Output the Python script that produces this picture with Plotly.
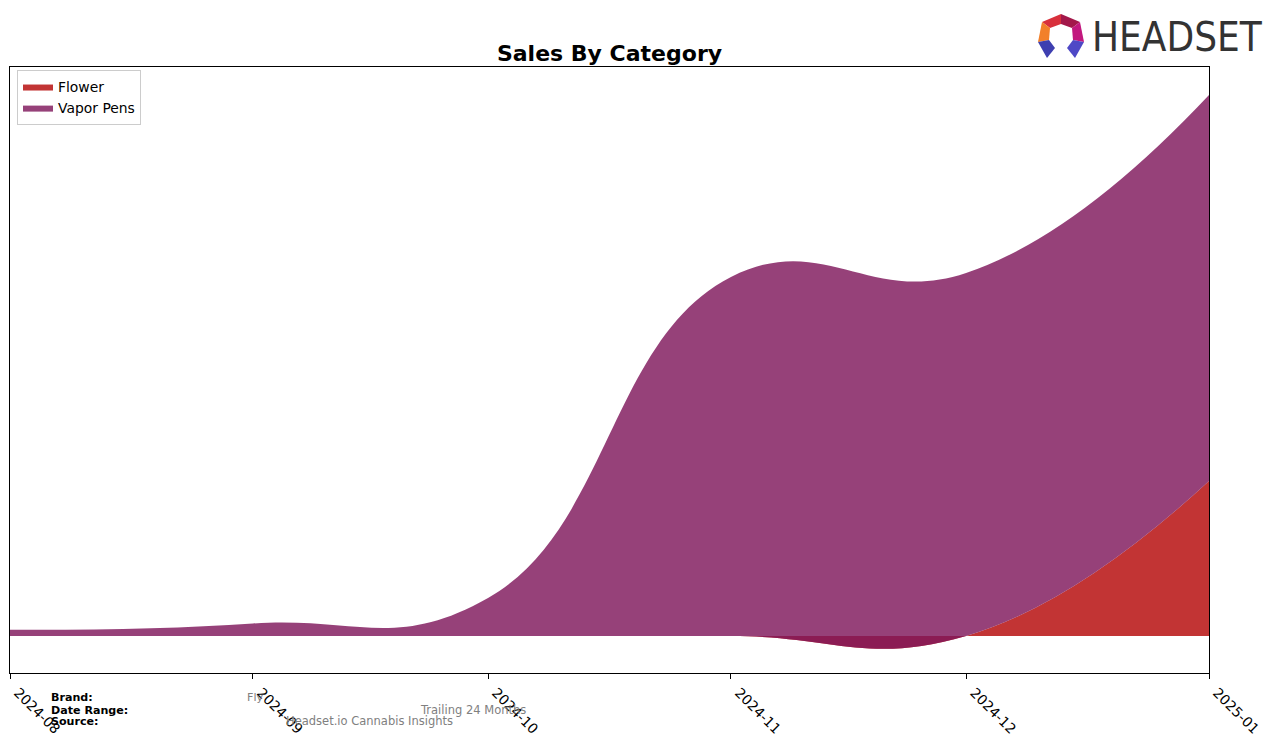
import plotly.graph_objects as go

# ---- data ----
months = ["2024-08-01", "2024-09-01", "2024-10-01", "2024-11-01", "2024-12-01", "2025-01-01"]
tick_labels = ["2024-08", "2024-09", "2024-10", "2024-11", "2024-12", "2025-01"]
flower = [0, 0, 0, 0, 0, 15500]
vapor_pens = [620, 1250, 3800, 35900, 36300, 38600]

# ---- geometry helpers (page pixel -> paper); page has an 8px body margin ----
OFF = 8
W, H = 1276 - OFF, 743 - OFF
L, R, T, B = 10 - OFF, 1209 - OFF, 67 - OFF, 673 - OFF
def px(x):
    return (x - OFF - L) / (R - L)
def py(y):
    return (B - (y - OFF)) / (B - T)

FONT = "DejaVu Sans"

fig = go.Figure()
fig.add_trace(go.Scatter(
    x=months, y=flower, name="Flower", stackgroup="one", mode="lines",
    line=dict(width=0, shape="spline", smoothing=1.3, color="rgba(181,7,7,0.82)"),
    fillcolor="rgba(181,7,7,0.82)",
))
fig.add_trace(go.Scatter(
    x=months, y=vapor_pens, name="Vapor Pens", stackgroup="one", mode="lines",
    line=dict(width=0, shape="spline", smoothing=1.3, color="rgba(127,23,92,0.82)"),
    fillcolor="rgba(127,23,92,0.82)",
))

fig.update_layout(
    width=W, height=H,
    margin=dict(l=L, r=W - R, t=T, b=H - B, autoexpand=False),
    paper_bgcolor="white", plot_bgcolor="white",
    font=dict(family=FONT, color="black", size=14),
    title=dict(text="<b>Sales By Category</b>", x=(609.5 - OFF) / W,
               xanchor="center", y=1 - (53 - OFF) / H, yanchor="middle",
               font=dict(family=FONT, size=22, color="black")),
    showlegend=True,
    legend=dict(x=px(17), y=py(70), xanchor="left", yanchor="top",
                bgcolor="white", bordercolor="#cccccc", borderwidth=1,
                traceorder="normal",
                font=dict(family=FONT, size=13.9, color="black"),
                itemwidth=30, tracegroupgap=0),
    xaxis=dict(type="date", range=[months[0], months[-1]],
               tickmode="array", tickvals=months, ticktext=tick_labels,
               tickangle=45, ticks="outside", ticklen=5, tickcolor="black",
               tickfont=dict(family=FONT, size=13.9, color="black"),
               ticklabeloverflow="allow", ticklabelshift=8,
               showline=True, linecolor="black", linewidth=1, mirror=True,
               showgrid=False, zeroline=False, automargin=False),
    yaxis=dict(range=[-3700, 56900], showticklabels=False, ticks="",
               showline=True, linecolor="black", linewidth=1, mirror=True,
               showgrid=False, zeroline=False, automargin=False),
)

# ---- footer ----
def ann(text, x, y, size, color, bold=False):
    fig.add_annotation(text=f"<b>{text}</b>" if bold else text,
                       x=px(x), y=py(y), xref="paper", yref="paper",
                       xanchor="left", yanchor="middle", showarrow=False,
                       font=dict(family=FONT, size=size, color=color))

ann("Brand:", 49, 697, 11.1, "black", True)
ann("Date Range:", 49, 710, 11.1, "black", True)
ann("Source:", 49, 721, 11.1, "black", True)
ann("Fly", 245, 697, 11.1, "#808080")
ann("Trailing 24 Months", 418, 710, 11.5, "#808080")
ann("Headset.io Cannabis Insights", 284, 721, 11.5, "#808080")

# ---- logo ----
def poly(points, color):
    path = "M " + " L ".join(f"{px(a)},{py(b)}" for a, b in points) + " Z"
    fig.add_shape(type="path", path=path, xref="paper", yref="paper",
                  fillcolor=color, line=dict(width=0), layer="above")

poly([(1042, 22), (1061, 14), (1061, 24), (1050, 28)], "#D8303C")
poly([(1061, 14), (1080, 22), (1072, 28), (1061, 24)], "#A3184A")
poly([(1042, 22), (1050, 28), (1049, 40), (1038, 42)], "#F2802A")
poly([(1080, 22), (1084, 42), (1073, 40), (1072, 28)], "#C2187E")
poly([(1038, 42), (1049, 40), (1055, 48), (1047, 58)], "#3E3FB0")
poly([(1084, 42), (1073, 40), (1067, 48), (1075, 58)], "#4E48C6")

fig.add_annotation(text="HEADSET", x=px(1090), y=py(37), xref="paper", yref="paper",
                   xanchor="left", yanchor="middle", showarrow=False,
                   font=dict(family="DejaVu Sans Condensed, Liberation Sans", size=40,
                             color="#333333"))

fig.write_html("out.html")
